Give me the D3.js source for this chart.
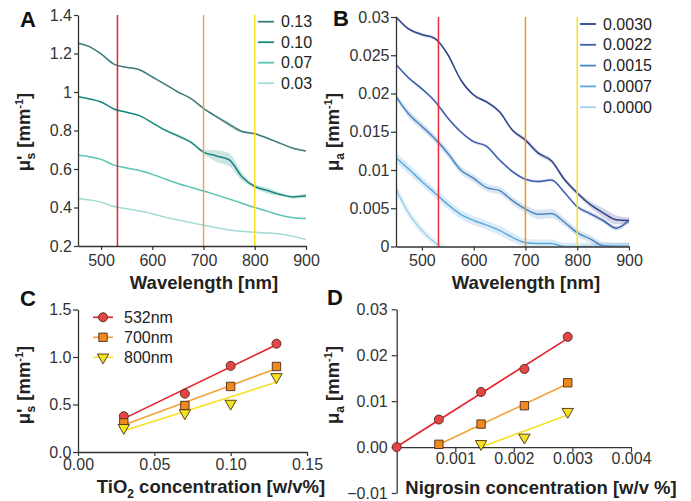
<!DOCTYPE html>
<html>
<head>
<meta charset="utf-8">
<script src="https://cdn.jsdelivr.net/npm/d3@7"></script>
<style>
  body { margin: 0; background: #fff; }
  text { font-family: Arial, "Liberation Sans", sans-serif; }
</style>
</head>
<body>
<svg id="fig" width="691" height="501"></svg>
<script>
// ---- panel A: reduced scattering vs wavelength (TiO2 phantoms)
var wavelengthsA = [455, 475, 500, 525, 550, 575, 600, 625, 650, 675, 700, 725, 750, 775, 800, 825, 850, 875, 900]
var tio2Labels = ["0.13", "0.10", "0.07", "0.03"]
var musA_013 = [1.254, 1.238, 1.198, 1.145, 1.128, 1.116, 1.078, 1.040, 1.000, 0.967, 0.915, 0.872, 0.832, 0.795, 0.783, 0.760, 0.733, 0.708, 0.693]
var musA_010 = [0.975, 0.965, 0.948, 0.912, 0.895, 0.877, 0.840, 0.802, 0.772, 0.740, 0.688, 0.668, 0.648, 0.560, 0.509, 0.488, 0.468, 0.455, 0.461]
var musA_007 = [0.671, 0.665, 0.650, 0.620, 0.605, 0.592, 0.572, 0.548, 0.525, 0.505, 0.486, 0.465, 0.444, 0.422, 0.400, 0.380, 0.360, 0.347, 0.343]
var musA_003 = [0.447, 0.440, 0.428, 0.405, 0.393, 0.382, 0.368, 0.350, 0.335, 0.322, 0.308, 0.295, 0.283, 0.276, 0.271, 0.267, 0.262, 0.250, 0.233]
// half width of the shaded spread
var sdA_013 = [0.006, 0.004, 0.003, 0.003, 0.003, 0.003, 0.003, 0.003, 0.003, 0.003, 0.004, 0.006, 0.012, 0.008, 0.005, 0.004, 0.004, 0.004, 0.004]
var sdA_010 = [0.004, 0.003, 0.003, 0.003, 0.003, 0.003, 0.003, 0.004, 0.008, 0.006, 0.012, 0.030, 0.035, 0.020, 0.010, 0.015, 0.010, 0.008, 0.010]
var sdA_007 = [0.003, 0.003, 0.003, 0.003, 0.003, 0.003, 0.003, 0.003, 0.003, 0.003, 0.003, 0.003, 0.003, 0.003, 0.003, 0.003, 0.003, 0.003, 0.003]
var sdA_003 = [0.004, 0.004, 0.003, 0.003, 0.003, 0.003, 0.003, 0.003, 0.003, 0.003, 0.004, 0.004, 0.004, 0.004, 0.004, 0.004, 0.004, 0.004, 0.004]

// ---- panel B: absorption vs wavelength (nigrosin phantoms)
var wavelengthsB = [450, 475, 500, 525, 550, 575, 600, 625, 650, 675, 700, 725, 750, 775, 800, 825, 850, 875, 900]
var nigLabels = ["0.0030", "0.0022", "0.0015", "0.0007", "0.0000"]
var muaB_0030 = [0.0300, 0.0284, 0.0277, 0.0272, 0.0251, 0.0218, 0.0198, 0.0189, 0.0176, 0.0152, 0.0139, 0.0122, 0.0112, 0.0088, 0.0070, 0.0055, 0.0044, 0.0035, 0.0034]
var muaB_0022 = [0.0238, 0.0220, 0.0206, 0.0190, 0.0168, 0.0150, 0.0137, 0.0131, 0.0113, 0.0098, 0.0088, 0.0085, 0.0087, 0.0071, 0.0052, 0.0043, 0.0034, 0.0024, 0.0034]
var muaB_0015 = [0.0196, 0.0173, 0.0157, 0.0141, 0.0122, 0.0100, 0.0089, 0.0077, 0.0073, 0.0060, 0.0049, 0.0042, 0.0043, 0.0032, 0.0018, 0.0010, 0.0001, 0.0000, 0.0000]
var muaB_0007 = [0.0116, 0.0101, 0.0085, 0.0070, 0.0055, 0.0042, 0.0034, 0.0028, 0.0021, 0.0012, 0.0005, 0.0004, 0.0004, 0.0000, 0.0000, 0.0000, 0.0000, 0.0000, 0.0000]
var muaB_0000 = [0.0075, 0.0043, 0.0021, 0.0005, -0.0006, null, null, null, null, null, null, null, null, null, null, null, null, null, null]
var sdB_0030 = [0.0002, 0.0002, 0.0002, 0.0002, 0.0002, 0.0002, 0.0002, 0.0002, 0.0002, 0.0002, 0.0003, 0.0003, 0.0003, 0.0003, 0.0003, 0.0004, 0.0006, 0.0006, 0.0004]
var sdB_0022 = [0.0002, 0.0002, 0.0002, 0.0002, 0.0002, 0.0002, 0.0002, 0.0002, 0.0002, 0.0002, 0.0002, 0.0002, 0.0002, 0.0002, 0.0002, 0.0003, 0.0003, 0.0003, 0.0003]
var sdB_0015 = [0.0004, 0.0005, 0.0005, 0.0005, 0.0005, 0.0005, 0.0005, 0.0005, 0.0005, 0.0005, 0.0005, 0.0006, 0.0006, 0.0005, 0.0005, 0.0005, 0.0005, 0.0005, 0.0005]
var sdB_0007 = [0.0007, 0.0007, 0.0006, 0.0006, 0.0006, 0.0006, 0.0006, 0.0006, 0.0006, 0.0006, 0.0005, 0.0005, 0.0005, 0.0005, 0.0005, 0.0005, 0.0005, 0.0005, 0.0005]
var sdB_0000 = [0.0007, 0.0007, 0.0006, 0.0006, 0.0006, null, null, null, null, null, null, null, null, null, null, null, null, null, null]

// ---- panels C and D: values at the three marked wavelengths
var markWavelengths = [532, 700, 800]
var markLabels = ["532nm", "700nm", "800nm"]
var tio2Conc = [0.03, 0.07, 0.10, 0.13]
var musC_532 = [0.377, 0.614, 0.907, 1.14]
var musC_700 = [0.307, 0.49, 0.69, 0.90]
var musC_800 = [0.255, 0.41, 0.51, 0.79]
var nigConc = [0, 0.00072, 0.00144, 0.00218, 0.00292]
var muaD_532 = [0, 0.006, 0.012, 0.017, 0.024]
var muaD_700 = [null, 0.0006, 0.005, 0.009, 0.014]
var muaD_800 = [null, null, 0.0007, 0.0021, 0.0077]

var tealColors = ["#3b7b7c", "#17877f", "#5cc5b4", "#a5dcd6"]
var blueColors = ["#2f428c", "#3d5eaf", "#4c87c2", "#5aaadd", "#9dd0ea"]
var markColorsA = ["#e5222c", "#eaa45a", "#f9e024"]
var markColorsB = ["#ee2a35", "#f0961a", "#f9e024"]
var markColors = ["#e5222c", "#f3a13a", "#f9e024"]
var markFills = ["#e54545", "#f08a1c", "#f1e31d"]

var svg = d3.select("#fig")

function styleAxis(g, tickFont) {
    g.attr("font-family", "Arial, Liberation Sans, sans-serif").attr("font-size", tickFont)
    g.select(".domain").attr("stroke", "#333").attr("stroke-width", 1.3)
    g.selectAll(".tick line").attr("stroke", "#333").attr("stroke-width", 1.2)
    g.selectAll(".tick text").attr("fill", "#333")
}

function bottomAxis(scale, y, ticks, fmt, size, pad) {
    var g = svg.append("g")
               .attr("transform", `translate(0,${y})`)
               .call(d3.axisBottom(scale).tickValues(ticks).tickFormat(fmt)
                       .tickSize(size).tickPadding(pad).tickSizeOuter(0))
    styleAxis(g, 16)
}

function leftAxis(scale, x, ticks, fmt, size, pad) {
    var g = svg.append("g")
               .attr("transform", `translate(${x},0)`)
               .call(d3.axisLeft(scale).tickValues(ticks).tickFormat(fmt)
                       .tickSize(size).tickPadding(pad).tickSizeOuter(0))
    styleAxis(g, 16)
}

function panelLetter(letter, x, y) {
    svg.append("text").attr("x", x).attr("y", y)
       .style("font-size", "22px").style("font-weight", "bold").attr("fill", "#111")
       .text(letter)
}

function xTitle(x, y, parts) {
    var t = svg.append("text").attr("x", x).attr("y", y)
               .attr("text-anchor", "middle").attr("fill", "#222")
               .style("font-size", "18.5px").style("font-weight", "bold")
    parts.forEach(p => {
        var s = t.append("tspan").text(p.text)
        if (p.sub) s.attr("dy", 5).style("font-size", "12px")
        if (p.back) s.attr("dy", -5)
    })
}

function yTitle(x, y, sub, prime) {
    var t = svg.append("text")
               .attr("transform", `translate(${x},${y}) rotate(-90)`)
               .attr("text-anchor", "middle").attr("fill", "#222")
               .style("font-size", "18.5px").style("font-weight", "bold")
    t.append("tspan").text("μ")
    if (prime) t.append("tspan").text("'")
    t.append("tspan").attr("dx", prime ? -4 : 0).attr("dy", 5).style("font-size", "12px").text(sub)
    t.append("tspan").attr("dy", -5).text(" [mm")
    t.append("tspan").attr("dy", -7).style("font-size", "11px").text("-1")
    t.append("tspan").attr("dy", 7).text("]")
}

function clip(id, x0, y0, x1, y1) {
    svg.append("clipPath").attr("id", id)
       .append("rect").attr("x", x0).attr("y", y0).attr("width", x1 - x0).attr("height", y1 - y0)
}

function spectra(xScale, yScale, wl, series, sds, colors, clipId) {
    var g = svg.append("g").attr("clip-path", `url(#${clipId})`)
    series.forEach((vals, i) => {
        var pts = wl.map((w, j) => ({ w: w, v: vals[j], sd: sds[i][j] }))
        var area = d3.area()
                     .defined(d => d.v != null)
                     .x(d => xScale(d.w))
                     .y0(d => yScale(d.v - d.sd))
                     .y1(d => yScale(d.v + d.sd))
                     .curve(d3.curveMonotoneX)
        g.append("path").attr("d", area(pts)).attr("fill", colors[i]).attr("opacity", 0.22)
    })
    series.forEach((vals, i) => {
        var pts = wl.map((w, j) => ({ w: w, v: vals[j] }))
        var line = d3.line()
                     .defined(d => d.v != null)
                     .x(d => xScale(d.w))
                     .y(d => yScale(d.v))
                     .curve(d3.curveMonotoneX)
        g.append("path").attr("d", line(pts)).attr("fill", "none")
         .attr("stroke", colors[i]).attr("stroke-width", 1.5)
    })
}

function markLines(xScale, yScale, colors) {
    markWavelengths.forEach((w, i) => {
        svg.append("line")
           .attr("x1", xScale(w)).attr("x2", xScale(w))
           .attr("y1", yScale.range()[1]).attr("y2", yScale.range()[0])
           .attr("stroke", colors[i]).attr("stroke-width", 1.5)
    })
}

function lineLegend(labels, colors, x, y0, step) {
    labels.forEach((lab, i) => {
        var y = y0 + i * step
        svg.append("line").attr("x1", x).attr("x2", x + 16).attr("y1", y).attr("y2", y)
           .attr("stroke", colors[i]).attr("stroke-width", 1.8)
        svg.append("text").attr("x", x + 23).attr("y", y + 5.5)
           .style("font-size", "16px").attr("fill", "#222").text(lab)
    })
}

var symbolTypes = [d3.symbolCircle, d3.symbolSquare, d3.symbolTriangle]
var symbolSizes = [64, 70, 56]

function marker(x, y, i) {
    svg.append("path")
       .attr("d", d3.symbol().type(symbolTypes[i]).size(symbolSizes[i])())
       .attr("transform", `translate(${x},${y})` + (i === 2 ? " rotate(180)" : ""))
       .attr("fill", markFills[i]).attr("stroke", "#4a2a1a").attr("stroke-width", 0.9)
}

function linreg(xs, ys) {
    var pts = xs.map((x, i) => [x, ys[i]]).filter(p => p[1] != null)
    var mx = d3.mean(pts, p => p[0]), my = d3.mean(pts, p => p[1])
    var sxy = d3.sum(pts, p => (p[0] - mx) * (p[1] - my))
    var sxx = d3.sum(pts, p => (p[0] - mx) * (p[0] - mx))
    var slope = sxy / sxx
    var x0 = d3.min(pts, p => p[0]), x1 = d3.max(pts, p => p[0])
    return { pts: pts, x0: x0, x1: x1, y0: my + slope * (x0 - mx), y1: my + slope * (x1 - mx) }
}

function scatterFits(xScale, yScale, conc, series) {
    var fits = series.map(vals => linreg(conc, vals))
    fits.forEach((f, i) => {
        svg.append("line")
           .attr("x1", xScale(f.x0)).attr("y1", yScale(f.y0))
           .attr("x2", xScale(f.x1)).attr("y2", yScale(f.y1))
           .attr("stroke", markColors[i]).attr("stroke-width", 1.6)
    })
    fits.forEach((f, i) => {
        f.pts.forEach(p => marker(xScale(p[0]), yScale(p[1]), i))
    })
}

// ================= A =================
var xA = d3.scaleLinear().domain([455, 900]).range([78, 306])
var yA = d3.scaleLinear().domain([0.2, 1.4]).range([246, 15])
clip("clipA", 78, 15, 306, 246)
spectra(xA, yA, wavelengthsA, [musA_013, musA_010, musA_007, musA_003],
        [sdA_013, sdA_010, sdA_007, sdA_003], tealColors, "clipA")
markLines(xA, yA, markColorsA)
leftAxis(yA, 78, [0.2, 0.4, 0.6, 0.8, 1, 1.2, 1.4], d3.format("~g"), 4, 2)
bottomAxis(xA, 246, [500, 600, 700, 800, 900], d3.format("d"), 4, 4.5)
lineLegend(tio2Labels, tealColors, 258, 21.7, 20.5)
xTitle(204, 289, [{ text: "Wavelength [nm]" }])
yTitle(30, 132, "s", true)
panelLetter("A", 20, 27)

// ================= B =================
var xB = d3.scaleLinear().domain([450, 900]).range([396, 629])
var yB = d3.scaleLinear().domain([0, 0.03]).range([246.5, 17])
clip("clipB", 396, 10, 640, 246.5)
spectra(xB, yB, wavelengthsB, [muaB_0030, muaB_0022, muaB_0015, muaB_0007, muaB_0000],
        [sdB_0030, sdB_0022, sdB_0015, sdB_0007, sdB_0000], blueColors, "clipB")
markLines(xB, yB, markColorsB)
leftAxis(yB, 396, [0, 0.005, 0.01, 0.015, 0.02, 0.025, 0.03], d3.format("~g"), 5, 1.5)
bottomAxis(xB, 246.5, [500, 600, 700, 800, 900], d3.format("d"), 4, 4.5)
lineLegend(nigLabels, blueColors, 580, 24, 20.8)
xTitle(526, 289, [{ text: "Wavelength [nm]" }])
yTitle(339, 132, "a", false)
panelLetter("B", 333, 26)

// ================= C =================
var xC = d3.scaleLinear().domain([0, 0.15]).range([78, 307])
var yC = d3.scaleLinear().domain([0, 1.5]).range([452, 309.5])
leftAxis(yC, 78, [0, 0.5, 1.0, 1.5], d3.format(".1f"), 5, 1.5)
bottomAxis(xC, 452, [0, 0.05, 0.10, 0.15], d3.format(".2f"), 4, 3)
scatterFits(xC, yC, tio2Conc, [musC_532, musC_700, musC_800])
markLabels.forEach((lab, i) => {
    var y = 317.3 + i * 20
    svg.append("line").attr("x1", 93).attr("x2", 113).attr("y1", y).attr("y2", y)
       .attr("stroke", markColors[i]).attr("stroke-width", 1.6)
    marker(103, y, i)
    svg.append("text").attr("x", 124).attr("y", y + 5.5)
       .style("font-size", "16px").attr("fill", "#222").text(lab)
})
xTitle(211, 493, [{ text: "TiO" }, { text: "2", sub: true }, { text: " concentration [w/v%]", back: true }])
yTitle(30, 385, "s", true)
panelLetter("C", 20, 306)

// ================= D =================
var xD = d3.scaleLinear().domain([0, 0.004]).range([396.7, 631])
var yD = d3.scaleLinear().domain([-0.01, 0.03]).range([493, 309.3])
leftAxis(yD, 396.7, [-0.01, 0, 0.01, 0.02, 0.03], d3.format(".2f"), 5, 4)
bottomAxis(xD, yD(0), [0.001, 0.002, 0.003, 0.004], d3.format(".3f"), 5, 1)
scatterFits(xD, yD, nigConc, [muaD_532, muaD_700, muaD_800])
xTitle(541, 494, [{ text: "Nigrosin concentration [w/v %]" }])
yTitle(339, 385, "a", false)
panelLetter("D", 327, 305)
</script>
</body>
</html>
